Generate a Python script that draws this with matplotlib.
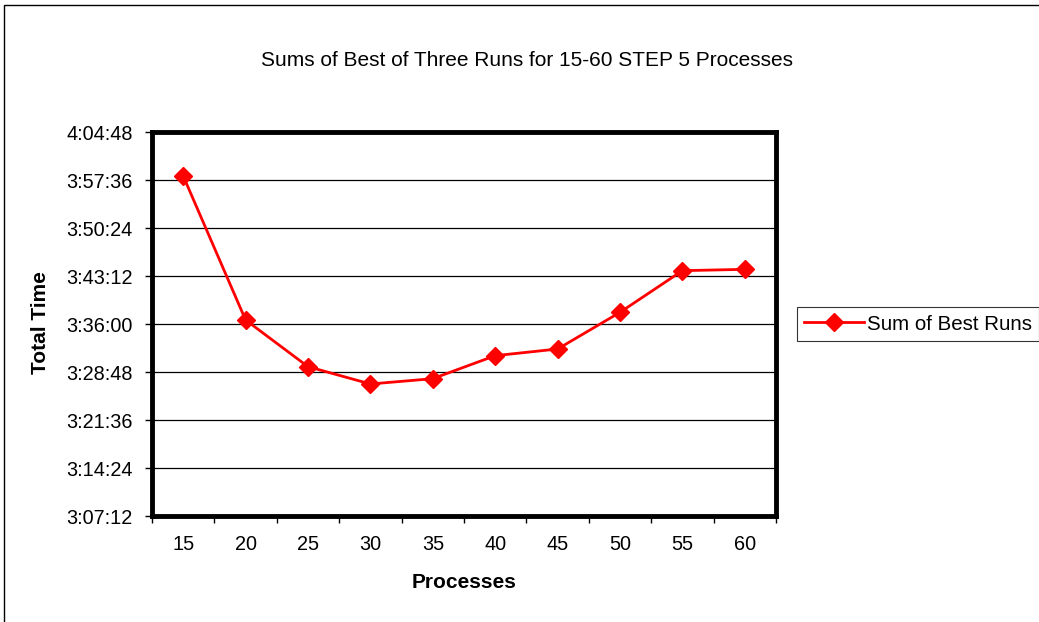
import matplotlib
matplotlib.use("Agg")
import matplotlib.pyplot as plt
from matplotlib.patches import Rectangle
from matplotlib.ticker import FixedLocator, FuncFormatter

plt.rcParams['font.family'] = ['Liberation Sans', 'DejaVu Sans']

categories = ["15", "20", "25", "30", "35", "40", "45", "50", "55", "60"]
times = ["3:58:12", "3:36:36", "3:29:36", "3:27:00", "3:27:48",
         "3:31:15", "3:32:15", "3:37:45", "3:44:00", "3:44:12"]
ytick_labels = ["3:07:12", "3:14:24", "3:21:36", "3:28:48", "3:36:00",
                "3:43:12", "3:50:24", "3:57:36", "4:04:48"]
series_name = "Sum of Best Runs"
title = "Sums of Best of Three Runs for 15-60 STEP 5 Processes"


def to_sec(s):
    h, m, sec = (int(p) for p in s.split(":"))
    return h * 3600 + m * 60 + sec


def fmt(v, pos=None):
    v = int(round(v))
    return f"{v // 3600}:{(v % 3600) // 60:02d}:{v % 60:02d}"


W, H = 1039, 622
fig = plt.figure(figsize=(W / 100, H / 100), dpi=100)
ax = fig.add_axes([152 / W, (H - 516) / H, (776 - 152) / W, (516 - 132) / H])

xs = [i + 0.5 for i in range(len(categories))]
ys = [to_sec(t) for t in times]
yt = [to_sec(t) for t in ytick_labels]

for y in yt[1:-1]:
    ax.axhline(y, color='black', lw=0.9, zorder=1)

ax.plot(xs, ys, color='#ff0000', lw=2, marker='D', markersize=9,
        markeredgecolor='#ff0000', label=series_name, zorder=3)

ax.set_xlim(0, len(categories))
ax.set_ylim(yt[0], yt[-1])
ax.yaxis.set_major_locator(FixedLocator(yt))
ax.yaxis.set_major_formatter(FuncFormatter(fmt))
ax.xaxis.set_major_locator(FixedLocator(list(range(len(categories) + 1))))
ax.xaxis.set_minor_locator(FixedLocator(xs))
ax.set_xticklabels([])
ax.set_xticklabels(categories, minor=True)
ax.tick_params(axis='x', which='major', direction='out', length=5, width=1)
ax.tick_params(axis='x', which='minor', length=0, pad=14, labelsize=14.3)
ax.tick_params(axis='y', direction='out', length=5, width=1, labelsize=14.3, pad=9)

for s in ax.spines.values():
    s.set_linewidth(3.5)
    s.set_color('black')

ax.set_xlabel("Processes", fontsize=15, fontweight='bold', labelpad=13)
fig.text(40 / W, 1 - 323 / H, "Total Time", rotation=90, ha='center', va='center',
         fontsize=15, fontweight='bold')
fig.text(527 / W, 1 - 61 / H, title, ha='center', va='center', fontsize=15)

leg = fig.legend(loc='center left', bbox_to_anchor=(797 / W, 1 - 324 / H),
                 frameon=True, fancybox=False, fontsize=14.8, handlelength=2.9,
                 borderpad=0.35, handletextpad=0.15, borderaxespad=0)
leg.get_frame().set_edgecolor('black')
leg.get_frame().set_linewidth(0.8)

fig.patches.append(Rectangle((3.5 / W, -0.1), 1.2, (H - 4.5) / H + 0.1,
                             transform=fig.transFigure, fill=False,
                             edgecolor='black', lw=1))

fig.savefig("out.png", dpi=100)
